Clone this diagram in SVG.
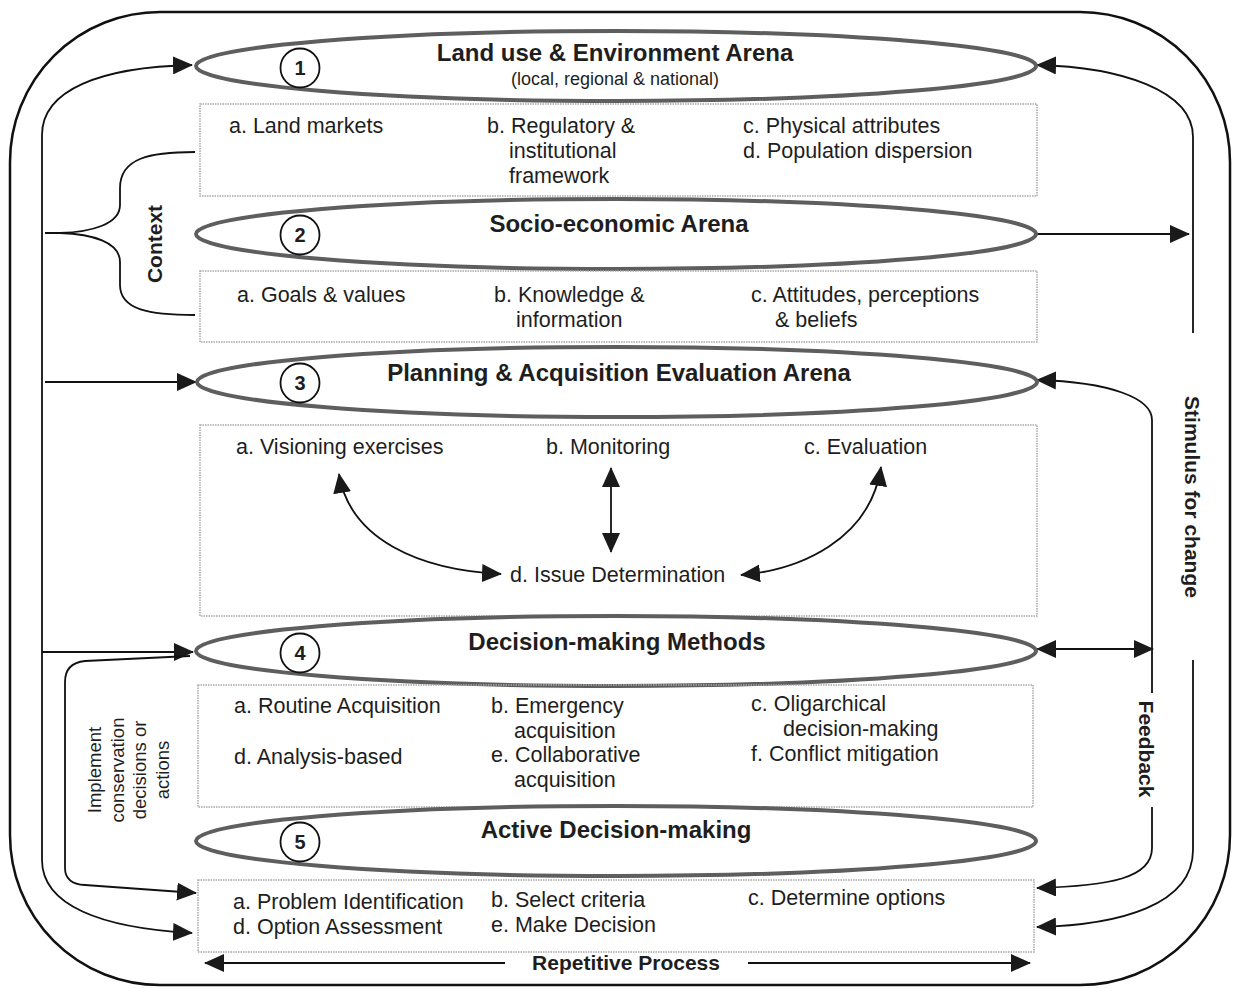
<svg xmlns="http://www.w3.org/2000/svg" width="1239" height="989" viewBox="0 0 1239 989">
<style>
text{font-family:"Liberation Sans",Arial,sans-serif;fill:#1e1e1e}
.t{font-size:21.5px}
.h{font-size:24px;font-weight:bold}
.b{font-size:21px;font-weight:bold}
.sub{font-size:18px}
.imp{font-size:18.5px}
.num{font-size:20px;font-weight:bold}
.ell{fill:none;stroke:#5e5e5e;stroke-width:4}
.box{fill:none;stroke:#a8a8a8;stroke-width:1.5;stroke-dasharray:1.5 1}
.cir{fill:#fff;stroke:#111;stroke-width:1.8}
.c{fill:none;stroke:#111;stroke-width:1.8}
.a{marker-end:url(#ah)}
.aa{marker-start:url(#ah);marker-end:url(#ah)}
</style>
<defs>
<marker id="ah" markerUnits="userSpaceOnUse" markerWidth="20" markerHeight="18" refX="19" refY="9" orient="auto-start-reverse">
<path d="M0,0 L20,9 L0,18 z" fill="#1a1a1a"/>
</marker>
</defs>
<rect width="1239" height="989" fill="#fff"/>
<rect x="10" y="12" width="1220" height="973" rx="150" ry="150" fill="none" stroke="#111" stroke-width="2.5"/>

<g id="connectors">
<path class="c aa" d="M192 933 C100 928 42 905 42 860 L42 135 C42 90 100 67 192 65"/>
<path class="c a" d="M45 382 L196 382"/>
<path class="c a" d="M42 652 L193 652"/>
<path class="c a" d="M190 656 L85 661 Q65 663 65 682 L65 868 Q65 884 85 885 L196 893"/>
<path class="c" d="M195 152 C150 152 120 158 120 188 L120 205 C120 224 92 232 60 233 C92 234 120 242 120 262 L120 285 C120 310 150 315 195 315 M45 233 L60 233"/>
<path class="c" d="M1037 65 C1120 67 1193 90 1193 137 L1193 333" marker-start="url(#ah)"/>
<path class="c a" d="M1193 660 L1193 850 C1193 905 1120 925 1037 927"/>
<path class="c a" d="M1037 234 L1189 234"/>
<path class="c" d="M1037 380 C1110 382 1152 398 1152 420 L1152 693" marker-start="url(#ah)"/>
<path class="c a" d="M1152 807 L1152 848 C1152 878 1110 886 1037 888"/>
<path class="c aa" d="M1037 649 L1153 649"/>
<path class="c" d="M205 963 L505 963" marker-start="url(#ah)"/>
<path class="c a" d="M748 963 L1030 963"/>
<path class="c aa" d="M339 474 C350 540 420 570 501 574"/>
<path class="c aa" d="M611 468 L611 552"/>
<path class="c aa" d="M881 467 C870 540 800 570 741 575"/>
</g>

<g id="n1">
<ellipse class="ell" cx="616" cy="66" rx="420" ry="35"/>
<circle class="cir" cx="300" cy="68" r="19.5"/>
<text class="num" x="300" y="75" text-anchor="middle">1</text>
<text class="h" x="615" y="61" text-anchor="middle">Land use &amp; Environment Arena</text>
<text class="sub" x="615" y="85" text-anchor="middle">(local, regional &amp; national)</text>
</g>
<g id="b1">
<rect class="box" x="200" y="104" width="837" height="92"/>
<text class="t" x="229" y="133">a. Land markets</text>
<text class="t" x="487" y="133">b. Regulatory &amp;</text>
<text class="t" x="509" y="158">institutional</text>
<text class="t" x="509" y="183">framework</text>
<text class="t" x="743" y="133">c. Physical attributes</text>
<text class="t" x="743" y="158">d. Population dispersion</text>
</g>
<g id="n2">
<ellipse class="ell" cx="616" cy="234" rx="420" ry="35"/>
<circle class="cir" cx="300" cy="235" r="19.5"/>
<text class="num" x="300" y="242" text-anchor="middle">2</text>
<text class="h" x="619" y="232" text-anchor="middle">Socio-economic Arena</text>
</g>
<g id="b2">
<rect class="box" x="200" y="271" width="837" height="71"/>
<text class="t" x="237" y="302">a. Goals &amp; values</text>
<text class="t" x="494" y="302">b. Knowledge &amp;</text>
<text class="t" x="516" y="327">information</text>
<text class="t" x="751" y="302">c. Attitudes, perceptions</text>
<text class="t" x="775" y="327">&amp; beliefs</text>
</g>
<g id="n3">
<ellipse class="ell" cx="617" cy="382" rx="420" ry="35"/>
<circle class="cir" cx="300" cy="383" r="19.5"/>
<text class="num" x="300" y="390" text-anchor="middle">3</text>
<text class="h" x="619" y="381" text-anchor="middle">Planning &amp; Acquisition Evaluation Arena</text>
</g>
<g id="b3">
<rect class="box" x="200" y="425" width="837" height="191"/>
<text class="t" x="236" y="454">a. Visioning exercises</text>
<text class="t" x="546" y="454">b. Monitoring</text>
<text class="t" x="804" y="454">c. Evaluation</text>
<text class="t" x="510" y="582">d. Issue Determination</text>
</g>
<g id="n4">
<ellipse class="ell" cx="616" cy="651" rx="420" ry="35"/>
<circle class="cir" cx="300" cy="653" r="19.5"/>
<text class="num" x="300" y="660" text-anchor="middle">4</text>
<text class="h" x="617" y="650" text-anchor="middle">Decision-making Methods</text>
</g>
<g id="b4">
<rect class="box" x="198" y="685" width="835" height="122"/>
<text class="t" x="234" y="713">a. Routine Acquisition</text>
<text class="t" x="491" y="713">b. Emergency</text>
<text class="t" x="514" y="738">acquisition</text>
<text class="t" x="751" y="711">c. Oligarchical</text>
<text class="t" x="783" y="736">decision-making</text>
<text class="t" x="234" y="764">d. Analysis-based</text>
<text class="t" x="491" y="762">e. Collaborative</text>
<text class="t" x="514" y="787">acquisition</text>
<text class="t" x="751" y="761">f. Conflict mitigation</text>
</g>
<g id="n5">
<ellipse class="ell" cx="616" cy="841" rx="420" ry="35"/>
<circle class="cir" cx="300" cy="842" r="19.5"/>
<text class="num" x="300" y="849" text-anchor="middle">5</text>
<text class="h" x="616" y="838" text-anchor="middle">Active Decision-making</text>
</g>
<g id="b5">
<rect class="box" x="198" y="880" width="836" height="72"/>
<text class="t" x="233" y="909">a. Problem Identification</text>
<text class="t" x="233" y="934">d. Option Assessment</text>
<text class="t" x="491" y="907">b. Select criteria</text>
<text class="t" x="491" y="932">e. Make Decision</text>
<text class="t" x="748" y="905">c. Determine options</text>
</g>
<g id="labels">
<text class="b" transform="translate(162,244) rotate(-90)" text-anchor="middle">Context</text>
<text class="b" transform="translate(1185,497) rotate(90)" text-anchor="middle">Stimulus for change</text>
<text class="b" transform="translate(1139,749) rotate(90)" text-anchor="middle">Feedback</text>
<text class="b" x="626" y="970" text-anchor="middle">Repetitive Process</text>
<text class="imp" transform="translate(101,770) rotate(-90)" text-anchor="middle"><tspan x="0" y="0">Implement</tspan><tspan x="0" y="22.5">conservation</tspan><tspan x="0" y="45">decisions or</tspan><tspan x="0" y="67.5">actions</tspan></text>
</g>
</svg>
